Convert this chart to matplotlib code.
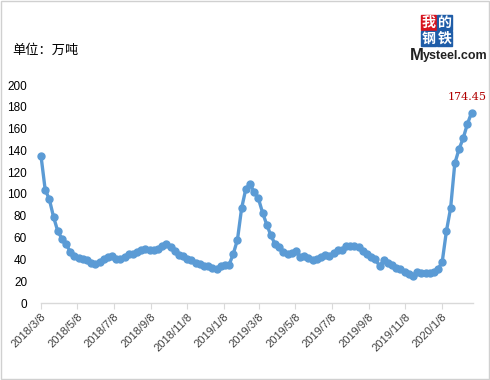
import matplotlib
matplotlib.use("Agg")
import matplotlib.pyplot as plt
import matplotlib.dates as mdates
import numpy as np
import pandas as pd

plt.rcParams['font.family'] = ['Liberation Sans', 'Noto Sans CJK SC', 'DejaVu Sans']

start_date = "2018-03-08"
values = [135, 104, 95, 79, 66, 59, 54, 47, 43, 41,
          40.5, 39, 37, 36, 38, 40, 42.5, 43, 40, 40,
          42.5, 45, 45, 47, 48.6, 50, 48.6, 48.6, 50, 52,
          54.5, 51, 48, 44, 43, 40, 39, 37, 35.8, 33.6,
          33.6, 32, 31, 34, 34.6, 35, 45, 58, 87, 104.6,
          109, 102, 96, 83, 72, 62, 54, 51, 47, 45,
          46, 47.7, 42, 43, 41, 39, 40, 42, 44, 43,
          45.6, 48.6, 48.6, 52.5, 52, 52, 51, 48, 45, 42,
          40, 34, 39, 37, 35, 32, 31, 28, 27, 25,
          28, 27.5, 27.5, 27.5, 28, 31, 38, 66, 87, 128,
          141, 151, 164, 174.45]
dates = pd.date_range(start_date, periods=len(values), freq="7D")

tick_dates = pd.to_datetime(["2018-03-08", "2018-05-08", "2018-07-08", "2018-09-08",
                             "2018-11-08", "2019-01-08", "2019-03-08", "2019-05-08",
                             "2019-07-08", "2019-09-08", "2019-11-08", "2020-01-08"])
tick_labels = ["2018/3/8", "2018/5/8", "2018/7/8", "2018/9/8", "2018/11/8", "2019/1/8",
               "2019/3/8", "2019/5/8", "2019/7/8", "2019/9/8", "2019/11/8", "2020/1/8"]
y_ticks = [0, 20, 40, 60, 80, 100, 120, 140, 160, 180, 200]
unit_label = "单位：万吨"
last_label = "174.45"

fig = plt.figure(figsize=(4.9, 3.8), dpi=100)
fig.patch.set_facecolor("white")
# outer border
fig.add_artist(plt.Rectangle((0.002, 0.003), 0.995, 0.994, transform=fig.transFigure,
                             fill=False, edgecolor="#d0d0d0", linewidth=1))

ax = fig.add_axes([41/490, 1-303/380, (473-41)/490, (303-85)/380])
ax.plot(dates, values, color="#5B9BD5", linewidth=2.4, marker="o", markersize=5,
        markerfacecolor="#5B9BD5", markeredgecolor="#5B9BD5", zorder=3, clip_on=False)

ax.set_ylim(0, 200)
ax.set_yticks(y_ticks)
ax.set_yticklabels([str(v) for v in y_ticks], fontsize=8.5, color="#000000")
x0 = pd.Timestamp(start_date)
ax.set_xlim(x0, x0 + pd.Timedelta(days=723.5))
ax.set_xticks(tick_dates)
ax.set_xticklabels(tick_labels, rotation=45, ha="right", rotation_mode="anchor",
                   fontsize=8, color="#404040")

for s in ["top", "right", "left"]:
    ax.spines[s].set_visible(False)
ax.spines["bottom"].set_color("#d9d9d9")
ax.spines["bottom"].set_linewidth(1)
ax.tick_params(axis="y", length=0, pad=10)
ax.tick_params(axis="x", length=4, color="#d9d9d9", pad=2)

ax.annotate(last_label, (dates[-1], values[-1]), xytext=(11, 8), textcoords="offset points",
            ha="right", va="bottom", fontsize=8, color="#B00000",
            family=["DejaVu Serif"])

fig.text(12/490, 1-50/380, unit_label, fontsize=9.5, ha="left", va="center",
         family=["Noto Sans CJK SC", "DejaVu Sans"])

# logo
chars = [("我", "#D7141E", 421, 15), ("的", "#1F5DA8", 437, 15),
         ("钢", "#1F5DA8", 421, 31), ("铁", "#1F5DA8", 437, 31)]
for ch, col, px, py in chars:
    fig.add_artist(plt.Rectangle((px/490, 1-(py+15)/380), 15/490, 15/380,
                                 transform=fig.transFigure, color=col))
    fig.text((px+7.5)/490, 1-(py+7.5)/380, ch, color="white", fontsize=10,
             ha="center", va="center", family=["Noto Sans CJK SC"], fontweight="bold")
fig.text(410/490, 1-55/380, "M", fontsize=12, fontweight="bold", ha="left", va="center",
         color="#222222")
fig.text(423/490, 1-56/380, "ysteel.com", fontsize=9, fontweight="bold", ha="left",
         va="center", color="#222222")

fig.savefig("out.png", dpi=100, facecolor="white")
